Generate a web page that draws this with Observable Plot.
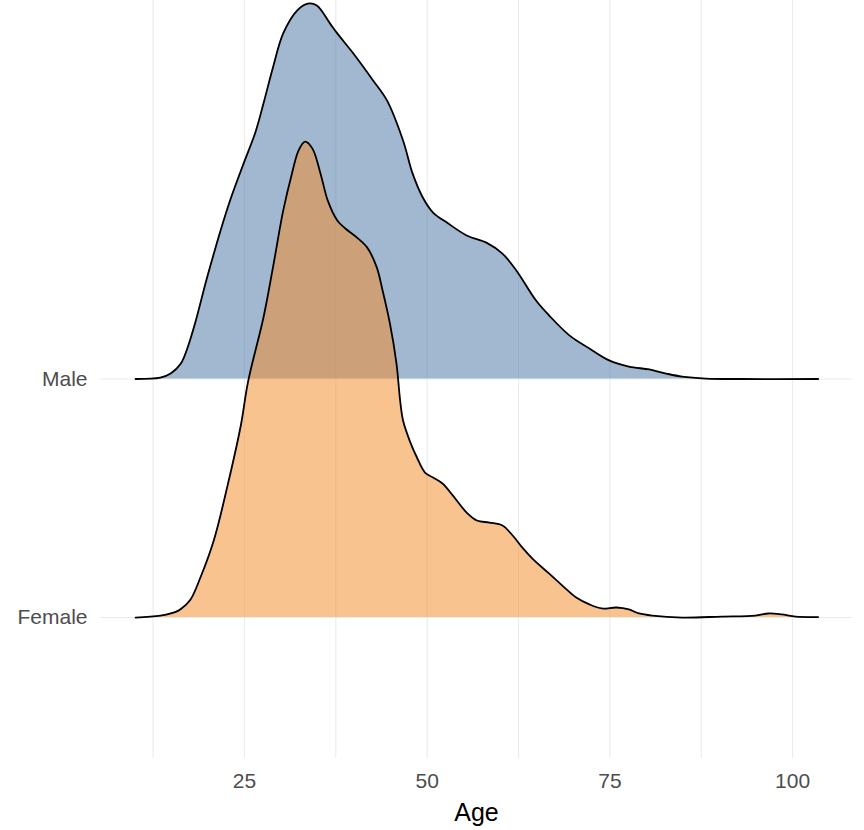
<!DOCTYPE html>
<html>
<head>
<meta charset="utf-8">
<script src="https://cdn.jsdelivr.net/npm/d3@7"></script>
<script src="https://cdn.jsdelivr.net/npm/@observablehq/plot@0.6"></script>
<style>
  html, body { margin: 0; padding: 0; background: #ffffff; }
  #chart { width: 864px; height: 830px; }
</style>
</head>
<body>
<div id="chart"></div>
<script>
// Ridge categories (baseline position on the y scale)
const groups = ["Female", "Male"];
const groupBaseline = [1, 2];

// Male ridge: age and density height (in ridge-spacing units)
const maleAge = [10.1, 13.5, 14.9, 16.3, 17.2, 18.3, 19.7, 20.8, 21.7, 23.1, 24.9, 26.5, 27.6, 28.9, 30.3, 32.2, 33.7, 34.9, 36.7, 37.7, 39.9, 42.6, 44.5, 46.7, 48.0, 49.4, 50.8, 52.7, 55.4, 58.1, 60.3, 62.2, 64.9, 66.7, 69.5, 72.2, 74.9, 77.6, 80.4, 82.7, 84.9, 88.1, 93.0, 103.5];
const maleDensity = [0.000, 0.006, 0.023, 0.065, 0.130, 0.240, 0.405, 0.525, 0.620, 0.755, 0.905, 1.035, 1.155, 1.306, 1.449, 1.545, 1.574, 1.566, 1.491, 1.449, 1.365, 1.252, 1.168, 1.000, 0.862, 0.761, 0.698, 0.656, 0.602, 0.572, 0.526, 0.455, 0.329, 0.266, 0.182, 0.128, 0.078, 0.052, 0.040, 0.023, 0.010, 0.002, 0.000, 0.000];

// Female ridge
const femaleAge = [10.1, 13.5, 15.6, 16.3, 17.6, 19.0, 20.8, 22.7, 24.5, 25.5, 27.6, 28.9, 30.3, 31.5, 32.4, 33.3, 34.3, 35.4, 36.4, 37.7, 38.8, 40.4, 41.8, 43.1, 43.9, 44.9, 45.8, 46.3, 46.7, 47.6, 48.6, 49.7, 50.8, 52.1, 53.5, 55.4, 56.8, 58.5, 60.3, 61.7, 63.0, 64.4, 66.7, 68.5, 70.4, 72.2, 73.9, 75.9, 77.6, 79.0, 80.8, 84.9, 90.3, 94.9, 96.7, 98.5, 100.4, 103.5];
const femaleDensity = [0.000, 0.008, 0.024, 0.036, 0.075, 0.170, 0.323, 0.555, 0.805, 0.990, 1.258, 1.468, 1.706, 1.862, 1.958, 1.995, 1.966, 1.862, 1.748, 1.665, 1.631, 1.593, 1.551, 1.468, 1.371, 1.233, 1.065, 0.910, 0.826, 0.742, 0.671, 0.608, 0.587, 0.562, 0.512, 0.440, 0.407, 0.398, 0.386, 0.344, 0.294, 0.247, 0.184, 0.134, 0.084, 0.055, 0.038, 0.042, 0.034, 0.017, 0.008, 0.000, 0.004, 0.008, 0.017, 0.013, 0.004, 0.002];

// Axis ticks
const xTicks = [25, 50, 75, 100];
const xGrid = [12.5, 25, 37.5, 50, 62.5, 75, 87.5, 100];

const colors = {Male: "#4e79a7", Female: "#f28e2b"};

const male = maleAge.map((a, i) => ({age: a, base: 2, top: 2 + maleDensity[i]}));
const female = femaleAge.map((a, i) => ({age: a, base: 1, top: 1 + femaleDensity[i]}));

const font = "'Liberation Sans', Arial, Helvetica, sans-serif";
const curve = "catmull-rom";

const chart = Plot.plot({
  width: 864,
  height: 830,
  marginTop: 0,
  marginBottom: 72,
  marginLeft: 100,
  marginRight: 12,
  style: {fontFamily: font, background: "#ffffff", overflow: "visible"},
  x: {domain: [5.3, 108.2]},
  y: {domain: [0.409, 3.587]},
  marks: [
    Plot.gridX(xGrid, {stroke: "#ebebeb", strokeOpacity: 1, strokeWidth: 1.1}),
    Plot.gridY(groupBaseline, {stroke: "#ebebeb", strokeOpacity: 1, strokeWidth: 1.1}),
    Plot.areaY(male, {x: "age", y1: "base", y2: "top", fill: colors.Male, fillOpacity: 0.53, curve}),
    Plot.lineY(male, {x: "age", y: "top", stroke: "#000000", strokeWidth: 1.8, curve}),
    Plot.areaY(female, {x: "age", y1: "base", y2: "top", fill: colors.Female, fillOpacity: 0.53, curve}),
    Plot.lineY(female, {x: "age", y: "top", stroke: "#000000", strokeWidth: 1.8, curve}),
    Plot.axisX(xTicks, {tickSize: 0, tickPadding: 15, fontSize: 21, fill: "#4d4d4d", label: null}),
    Plot.axisY(groupBaseline, {tickSize: 0, tickPadding: 13, fontSize: 21, fill: "#4d4d4d", label: null,
      tickFormat: d => groups[groupBaseline.indexOf(d)]}),
    Plot.text(["Age"], {frameAnchor: "bottom", text: d => d, dy: 54, lineAnchor: "middle", fontSize: 25, fill: "#000000"})
  ]
});

document.getElementById("chart").appendChild(chart);
</script>
</body>
</html>
